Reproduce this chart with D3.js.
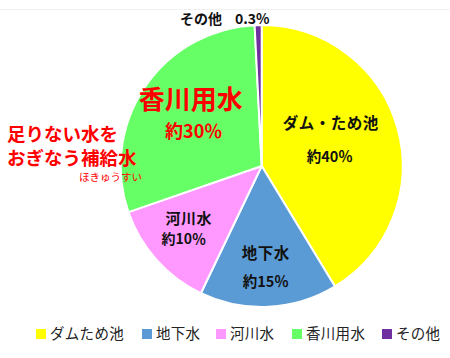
<!DOCTYPE html>
<html><head><meta charset="utf-8">
<script src="https://cdn.jsdelivr.net/npm/d3@7"></script>
<style>
html,body{margin:0;padding:0;background:#fff;}
svg{display:block;font-family:"Noto Sans CJK JP","Noto Sans",sans-serif;}
</style></head>
<body>
<svg id="c" width="450" height="358"></svg>
<script>
const categories = ["ダムため池", "地下水", "河川水", "香川用水", "その他"];
const values = [41.3, 15.8, 12.6, 29.5, 0.8];
const colors = ["#FFFF00", "#5B9BD5", "#FF99FF", "#66FF66", "#7030A0"];
const sliceNames = ["ダム・ため池", "地下水", "河川水", null, null];
const sliceShares = ["約40％", "約15％", "約10％", null, null];

const svg = d3.select("#c");
const cx = 261.7, cy = 166, R = 141;

svg.append("line").attr("x1",0).attr("x2",450).attr("y1",9.5).attr("y2",9.5)
  .attr("stroke","#f0f0f0").attr("stroke-width",1);

const pie = d3.pie().sort(null).value(d => d)(values);
const arc = d3.arc().innerRadius(0).outerRadius(R);
const g = svg.append("g").attr("transform", `translate(${cx},${cy})`);
g.selectAll("path").data(pie).join("path")
  .attr("d", arc)
  .attr("fill", (d,i) => colors[i])
  .attr("stroke", "#fff").attr("stroke-width", 2).attr("stroke-linejoin","round");

// in-slice labels (offsets from centre)
const labelPos = [
  {n:[69,-43], s:[68,-9], fs:15.5, ss:14.5},
  {n:[4,87], s:[4,116], fs:15.5, ss:14.5},
  {n:[-73,53], s:[-78,73], fs:15, ss:14}
];
labelPos.forEach((p,i) => {
  g.append("text").attr("x",p.n[0]).attr("y",p.n[1]).attr("dy","0.36em")
    .attr("text-anchor","middle").attr("font-size",p.fs).attr("font-weight","bold")
    .attr("fill","#111").attr("letter-spacing","0.5px").text(sliceNames[i]);
  g.append("text").attr("x",p.s[0]).attr("y",p.s[1]).attr("dy","0.36em")
    .attr("text-anchor","middle").attr("font-size",p.ss).attr("font-weight","bold")
    .attr("fill","#111").text(sliceShares[i]);
});

// 香川用水 labels
g.append("text").attr("x",-71).attr("y",-66).attr("dy","0.36em").attr("text-anchor","middle")
  .attr("font-size",26).attr("font-weight","bold").attr("fill","#FF0000").text("香川用水");
g.append("text").attr("x",-68).attr("y",-34).attr("dy","0.36em").attr("text-anchor","middle")
  .attr("font-size",18).attr("font-weight","bold").attr("fill","#FF0000").text("約30％");

// その他 label
svg.append("text").attr("x",180).attr("y",19).attr("dy","0.36em")
  .attr("font-size",14).attr("font-weight","bold").attr("fill","#111").text("その他");
svg.append("text").attr("x",235).attr("y",19).attr("dy","0.36em")
  .attr("font-size",14).attr("font-weight","bold").attr("fill","#111").text("0.3%");

// left annotation
svg.append("text").attr("x",7).attr("y",134).attr("dy","0.36em")
  .attr("font-size",18.5).attr("font-weight","bold").attr("fill","#FF0000").text("足りない水を");
svg.append("text").attr("x",7).attr("y",158).attr("dy","0.36em")
  .attr("font-size",18.5).attr("font-weight","bold").attr("fill","#FF0000").text("おぎなう補給水");
svg.append("text").attr("x",79).attr("y",177).attr("dy","0.36em")
  .attr("font-size",10.5).attr("fill","#FF0000").text("ほきゅうすい");

// legend
const legX = [36, 142, 216, 292, 382];
const lg = svg.append("g");
categories.forEach((c,i) => {
  lg.append("rect").attr("x",legX[i]).attr("y",329).attr("width",10).attr("height",10).attr("fill",colors[i]);
  lg.append("text").attr("x",legX[i]+14).attr("y",334).attr("dy","0.36em")
    .attr("font-size",14.5).attr("fill","#222").attr("letter-spacing","0.3px").text(c);
});
</script>
</body></html>
